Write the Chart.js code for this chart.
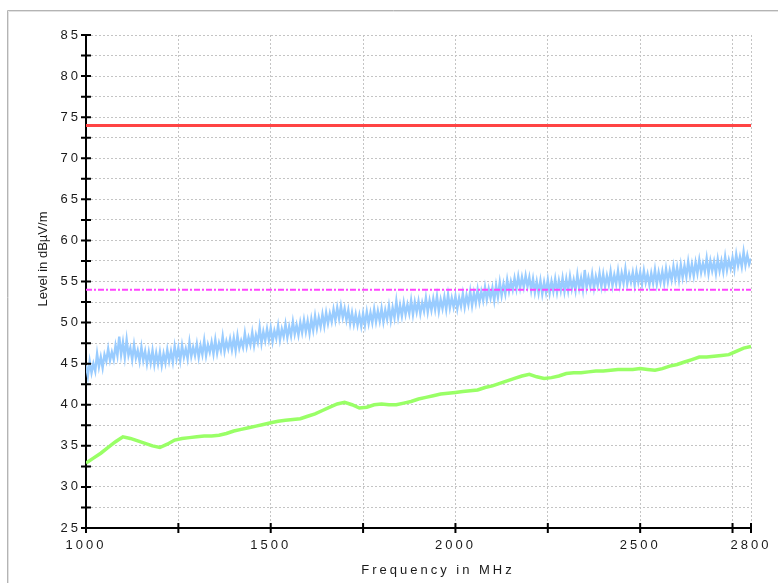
<!DOCTYPE html>
<html>
<head>
<meta charset="utf-8">
<script src="https://cdn.jsdelivr.net/npm/chart.js@4"></script>
<style>
  body { margin: 0; background: #fff; }
  canvas { display: block; }
</style>
</head>
<body>
<canvas id="emcChart" width="778" height="583"></canvas>
<script>
// sweep grids (MHz)
const peakStart = 1000, peakStep = 5;
const avgStart = 1000, avgStep = 20;

// peak trace, dBµV/m, one value every 5 MHz from 1000 MHz
const peakLevel = [
  44.8,43.5,45.3,43.9,45.0,44.1,46.2,44.6,45.8,44.5,46.1,45.3,46.8,45.4,46.4,45.5,47.2,46.0,48.3,46.1,
  47.6,45.8,47.9,46.0,46.9,45.5,47.3,45.7,46.6,45.3,47.0,45.4,46.5,45.0,46.4,45.1,46.6,44.9,46.3,45.0,
  46.4,44.8,46.2,45.1,46.7,45.3,46.5,45.2,47.1,45.6,46.9,45.4,47.2,45.8,46.8,45.6,47.6,45.9,47.0,46.0,
  47.4,45.8,47.2,46.1,47.8,46.0,47.3,46.4,47.6,46.2,47.9,46.3,47.5,46.6,48.3,46.5,47.7,46.8,48.0,46.7,
  48.1,46.6,48.4,46.9,47.8,47.0,48.7,47.1,48.2,47.3,48.8,47.2,48.5,47.6,49.4,47.5,48.9,47.8,49.2,47.9,
  49.3,47.7,49.0,48.1,49.6,47.9,49.2,48.3,49.8,48.2,49.5,48.4,50.1,48.6,49.7,48.5,50.0,48.8,50.3,48.9,
  50.2,48.7,50.4,49.1,50.8,49.3,50.6,49.5,51.0,49.6,51.2,49.9,51.1,50.1,51.6,50.3,51.8,50.5,52.0,50.6,
  51.7,50.3,51.5,49.9,51.2,49.8,51.0,49.7,50.9,49.6,51.1,49.7,51.3,49.9,51.2,50.0,51.6,50.1,51.4,50.2,
  51.7,50.1,51.5,50.4,52.0,50.3,51.8,50.6,52.6,50.7,52.1,50.8,52.4,51.0,52.2,51.1,52.7,51.0,52.5,51.3,
  52.6,51.1,52.4,51.4,53.0,51.3,52.7,51.5,52.9,51.6,53.2,51.4,52.8,51.7,53.1,51.6,53.4,51.8,53.0,51.9,
  53.2,51.7,53.0,52.0,53.5,51.9,53.3,52.2,53.8,52.1,53.6,52.4,54.0,52.5,53.8,52.7,54.3,52.8,54.1,53.0,
  54.2,52.7,54.5,53.1,54.9,53.3,54.7,53.5,55.2,53.8,55.0,54.0,55.4,54.1,55.6,54.2,55.5,54.3,55.7,54.4,
  55.5,53.9,55.3,53.7,55.0,53.6,55.1,53.5,54.9,53.7,55.2,53.6,55.0,53.8,55.3,53.7,55.1,53.9,55.4,53.8,
  55.3,53.9,55.6,54.1,55.2,53.9,55.8,54.2,55.4,54.0,56.4,54.3,55.5,54.4,55.9,54.2,55.6,54.5,56.0,54.4,
  55.9,54.4,55.7,54.6,56.2,54.5,55.8,54.7,56.3,54.6,56.0,54.8,56.5,54.7,55.9,54.9,56.1,54.6,56.2,54.9,
  56.1,54.7,56.3,54.9,55.9,54.6,56.0,54.8,56.4,54.7,56.1,54.9,56.2,54.8,56.5,55.0,56.3,55.2,56.8,55.3,
  56.7,55.2,57.0,55.5,56.9,55.6,57.4,55.8,57.1,55.7,57.3,56.0,57.6,56.1,57.2,56.2,57.8,56.0,57.5,56.3,
  57.4,56.0,57.7,56.3,57.5,56.2,58.0,56.4,57.6,56.6,57.9,56.5,58.3,56.9,58.0,56.8,58.6,57.0,58.2,57.1,57.8
];

// average trace, dBµV/m, one value every 20 MHz from 1000 MHz
const avgLevel = [
  32.9,33.5,34.1,34.8,35.5,36.1,35.9,35.6,35.3,35.0,
  34.8,35.2,35.7,35.9,36.0,36.1,36.2,36.2,36.3,36.5,
  36.8,37.0,37.2,37.4,37.6,37.8,38.0,38.1,38.2,38.3,
  38.6,38.9,39.3,39.7,40.1,40.3,40.0,39.6,39.7,40.0,
  40.1,40.0,40.0,40.2,40.4,40.7,40.9,41.1,41.3,41.4,
  41.5,41.6,41.7,41.8,42.1,42.3,42.6,42.9,43.2,43.5,
  43.7,43.4,43.2,43.3,43.5,43.8,43.9,43.9,44.0,44.1,
  44.1,44.2,44.3,44.3,44.3,44.4,44.3,44.2,44.4,44.7,
  44.9,45.2,45.5,45.8,45.8,45.9,46.0,46.1,46.5,46.9,47.1
];

const limitPeak = 74;
const limitAvg = 54;
const freqTicks = [1000, 1250, 1500, 1750, 2000, 2250, 2500, 2750, 2800];
const freqLabels = [1000, 1500, 2000, 2500, 2800];

const FONT = "'Liberation Sans', Arial, sans-serif";

const frameAndTicks = {
    id: "frameAndTicks",
    beforeLayout(chart) {
        chart.ctx.letterSpacing = "3px";
    },
    beforeDraw(chart) {
        const ctx = chart.ctx;
        ctx.letterSpacing = "3px";
        ctx.save();
        ctx.strokeStyle = "#b4b4b4";
        ctx.lineWidth = 1;
        ctx.beginPath();
        ctx.moveTo(7.5, 600);
        ctx.lineTo(7.5, 10.5);
        ctx.lineTo(800, 10.5);
        ctx.stroke();
        ctx.strokeStyle = "#e2e2e2";
        ctx.beginPath();
        ctx.moveTo(8.5, 600);
        ctx.lineTo(8.5, 11.5);
        ctx.lineTo(800, 11.5);
        ctx.stroke();
        ctx.restore();
    },
    afterDraw(chart) {
        const ctx = chart.ctx;
        const x = chart.scales.x, y = chart.scales.y;
        ctx.save();
        ctx.strokeStyle = "#000";
        ctx.lineWidth = 2;
        ctx.beginPath();
        y.ticks.forEach((t) => {
            const py = y.getPixelForValue(t.value);
            ctx.moveTo(x.left - 5, py);
            ctx.lineTo(x.left + 5, py);
        });
        x.ticks.forEach((t) => {
            const px = x.getPixelForValue(t.value);
            ctx.moveTo(px, y.bottom - 5);
            ctx.lineTo(px, y.bottom + 5);
        });
        ctx.stroke();

        ctx.fillStyle = "#1a1a1a";
        ctx.font = "13px " + FONT;
        ctx.textAlign = "center";
        ctx.textBaseline = "middle";
        ctx.letterSpacing = "3px";
        ctx.fillText("Frequency in MHz", 438, 570);
        ctx.letterSpacing = "0px";
        ctx.translate(43, 259);
        ctx.rotate(-Math.PI / 2);
        ctx.fillText("Level in dBµV/m", 0, 0);
        ctx.restore();
    },
};

function series(values, start, step) {
    return values.map((v, i) => ({ x: start + i * step, y: v }));
}

const ctx = document.getElementById("emcChart");
new Chart(ctx, {
    type: "line",
    data: {
        datasets: [
            {
                label: "Average limit",
                data: [{ x: 1000, y: limitAvg }, { x: 2800, y: limitAvg }],
                borderColor: "#ff44ff",
                borderWidth: 2,
                borderDash: [6, 2, 2, 2],
                order: 0,
            },
            {
                label: "Peak limit",
                data: [{ x: 1000, y: limitPeak }, { x: 2800, y: limitPeak }],
                borderColor: "#ff4444",
                borderWidth: 3,
                order: 1,
            },
            {
                label: "Average",
                data: series(avgLevel, avgStart, avgStep),
                borderColor: "#99ff66",
                borderWidth: 3.5,
                order: 2,
            },
            {
                label: "Peak",
                data: series(peakLevel, peakStart, peakStep),
                borderColor: "#99ccff",
                borderWidth: 2.4,
                order: 3,
            },
        ],
    },
    options: {
        responsive: false,
        animation: false,
        parsing: false,
        normalized: true,
        elements: { point: { radius: 0 }, line: { tension: 0, fill: false } },
        layout: { padding: { left: 0, top: 35, right: 27, bottom: 0 } },
        plugins: {
            legend: { display: false },
            tooltip: { enabled: false },
        },
        scales: {
            x: {
                type: "linear",
                min: 1000,
                max: 2800,
                afterBuildTicks(scale) {
                    scale.ticks = freqTicks.map((v) => ({ value: v }));
                },
                afterFit(scale) {
                    scale.height = 55;
                    scale.paddingLeft = 0;
                    scale.paddingRight = 0;
                },
                ticks: {
                    autoSkip: false,
                    maxRotation: 0,
                    padding: 10,
                    color: "#1a1a1a",
                    font: { family: FONT, size: 13 },
                    callback: (v) => (freqLabels.includes(v) ? String(v) : ""),
                },
                grid: { color: "#c4c4c4", lineWidth: 1, drawTicks: false },
                border: { display: true, color: "#000", width: 2, dash: [2, 2] },
            },
            y: {
                min: 25,
                max: 85,
                afterFit(scale) {
                    scale.width = 86;
                    scale.paddingTop = 0;
                    scale.paddingBottom = 0;
                },
                ticks: {
                    stepSize: 2.5,
                    autoSkip: false,
                    padding: 5,
                    color: "#1a1a1a",
                    font: { family: FONT, size: 13 },
                    callback: (v) => (v % 5 === 0 ? String(v) : ""),
                },
                grid: { color: "#c4c4c4", lineWidth: 1, drawTicks: false },
                border: { display: true, color: "#000", width: 2, dash: [2, 2] },
            },
        },
    },
    plugins: [frameAndTicks],
});
</script>
</body>
</html>
